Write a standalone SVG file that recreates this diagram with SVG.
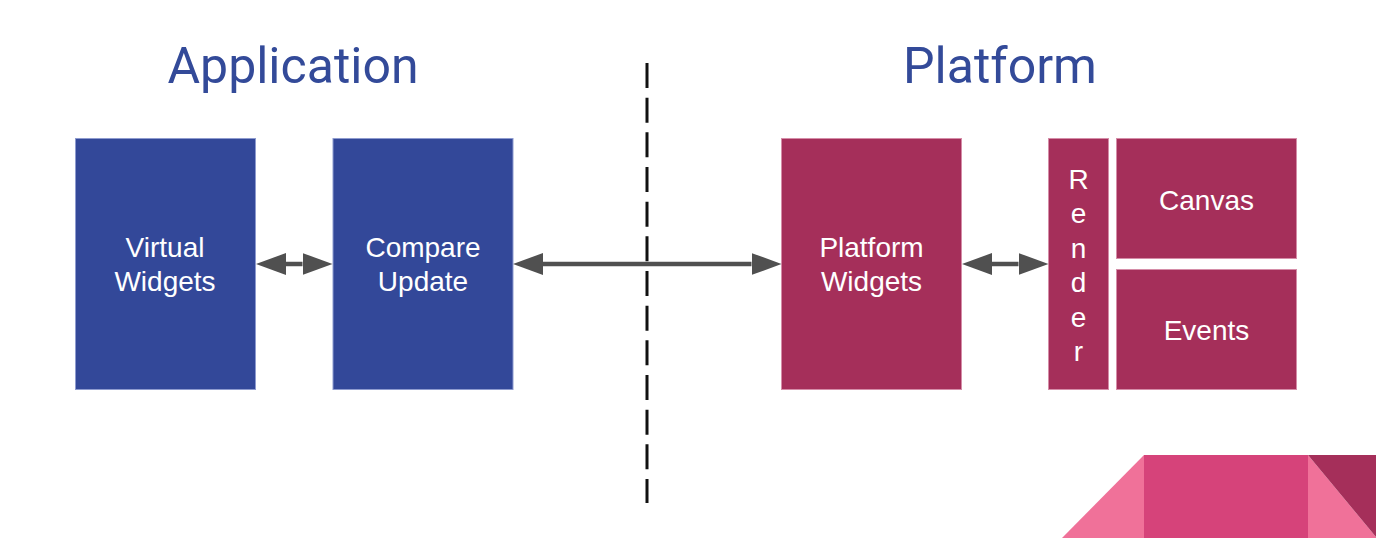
<svg xmlns="http://www.w3.org/2000/svg" width="1376" height="538" viewBox="0 0 1376 538">
<style>
.title{font-family:Roboto,"Liberation Sans",sans-serif;font-size:50px;fill:#334A99;text-anchor:middle}
.lbl{font-family:"Liberation Sans",Arial,sans-serif;font-size:28px;fill:#ffffff;text-anchor:middle}
.blue{fill:#334899;stroke:#8E9BCF;stroke-width:1}
.red{fill:#A52F5A;stroke:#D58DA8;stroke-width:1}
.conn{stroke:#505050;stroke-width:4.5;fill:none}
</style>
<defs>
<marker id="ah" markerWidth="30" markerHeight="22" refX="0" refY="11" orient="auto-start-reverse" markerUnits="userSpaceOnUse">
<path d="M0,0 L30,11 L0,22 z" fill="#505050"/>
</marker>
</defs>
<rect width="1376" height="538" fill="#ffffff"/>
<text class="title" x="293" y="82.5">Application</text>
<text class="title" x="1000" y="82.5">Platform</text>
<line x1="647" y1="63" x2="647" y2="503" stroke="#111111" stroke-width="3" stroke-dasharray="25 9.67"/>
<g id="virtual-widgets">
<rect class="blue" x="75.5" y="138.5" width="180" height="251"/>
<text class="lbl" x="165" y="257">Virtual</text>
<text class="lbl" x="165" y="290.5">Widgets</text>
</g>
<g id="compare-update">
<rect class="blue" x="333" y="138.5" width="180" height="251"/>
<text class="lbl" x="423" y="257">Compare</text>
<text class="lbl" x="423" y="290.5">Update</text>
</g>
<g id="platform-widgets">
<rect class="red" x="781.5" y="138.5" width="180" height="251"/>
<text class="lbl" x="871.5" y="257">Platform</text>
<text class="lbl" x="871.5" y="290.5">Widgets</text>
</g>
<g id="render">
<rect class="red" x="1048.5" y="138.5" width="60" height="251"/>
<text class="lbl" x="1078.5" y="188.5">R</text>
<text class="lbl" x="1078.5" y="223">e</text>
<text class="lbl" x="1078.5" y="257.5">n</text>
<text class="lbl" x="1078.5" y="292">d</text>
<text class="lbl" x="1078.5" y="326.5">e</text>
<text class="lbl" x="1078.5" y="361">r</text>
</g>
<g id="canvas">
<rect class="red" x="1116.5" y="138.5" width="180" height="120"/>
<text class="lbl" x="1206.5" y="210">Canvas</text>
</g>
<g id="events">
<rect class="red" x="1116.5" y="269.5" width="180" height="120"/>
<text class="lbl" x="1206.5" y="340">Events</text>
</g>
<g id="connectors">
<line class="conn" x1="286" y1="264" x2="302.5" y2="264" marker-start="url(#ah)" marker-end="url(#ah)"/>
<line class="conn" x1="543" y1="264" x2="751.5" y2="264" marker-start="url(#ah)" marker-end="url(#ah)"/>
<line class="conn" x1="992" y1="264" x2="1018.5" y2="264" marker-start="url(#ah)" marker-end="url(#ah)"/>
</g>
<g id="decoration">
<polygon points="1062,538 1144,455 1144,538" fill="#F07199"/>
<rect x="1144" y="455" width="164" height="83" fill="#D6437A"/>
<polygon points="1308,455 1376,537 1376,538 1308,538" fill="#F07199"/>
<polygon points="1308,455 1376,455 1376,537" fill="#A52F5A"/>
</g>
</svg>
